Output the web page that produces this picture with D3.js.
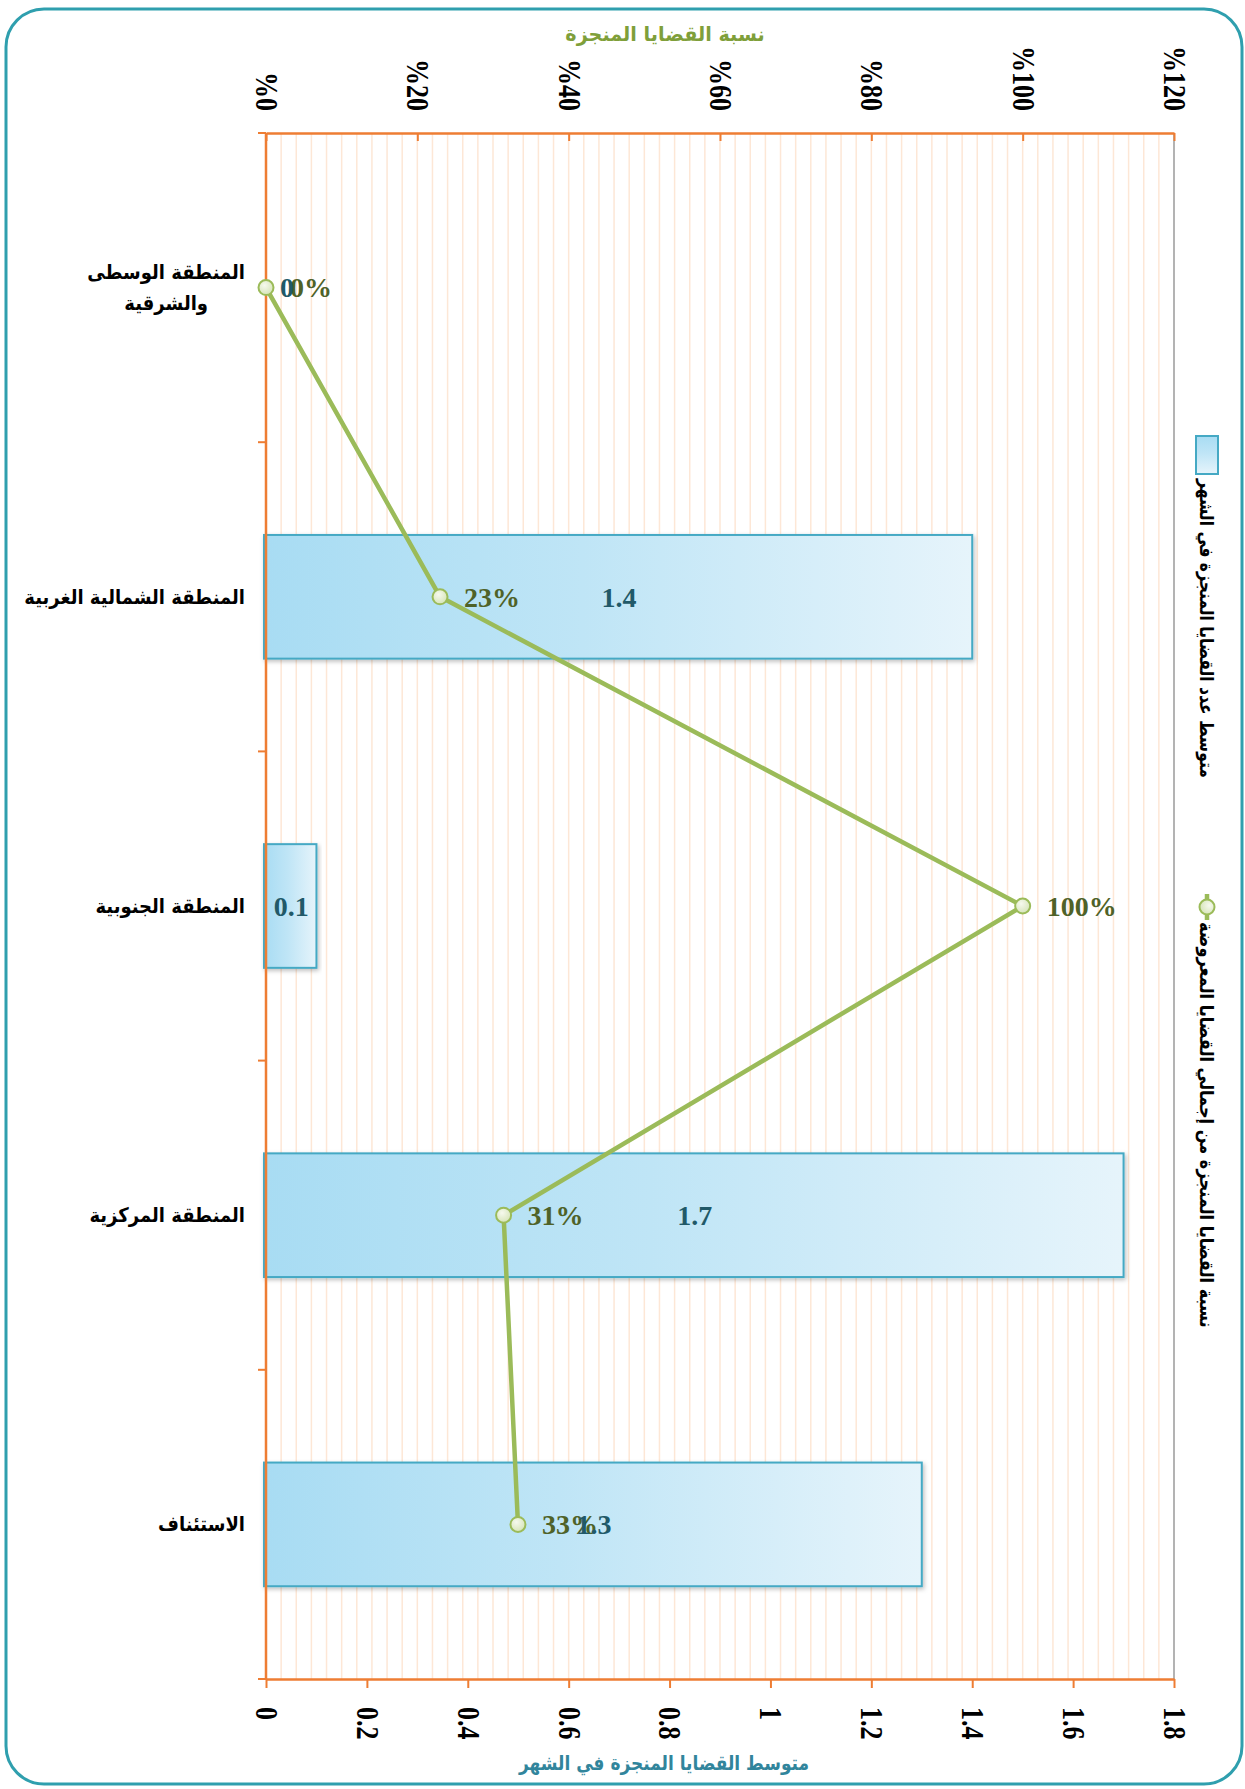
<!DOCTYPE html>
<html>
<head>
<meta charset="utf-8">
<script src="https://cdn.jsdelivr.net/npm/d3@7"></script>
<style>
  body{ margin:0; padding:0; background:#fff; }
  svg{ display:block; }
  .ar{ font-family:"DejaVu Sans", sans-serif; font-weight:bold; }
  .num{ font-family:"Liberation Serif", "Times New Roman", serif; font-weight:bold; }
</style>
</head>
<body>
<svg id="chart" width="1245" height="1789"></svg>
<script>
  // categories (top -> bottom)
  let categories = [
    'المنطقة الوسطى\nوالشرقية',
    'المنطقة الشمالية الغربية',
    'المنطقة الجنوبية',
    'المنطقة المركزية',
    'الاستئناف'
  ];
  // average completed cases per month (bars)
  let avgCases = [0, 1.4, 0.1, 1.7, 1.3];
  // share of completed cases (line)
  let pctDone = [0, 0.23, 1.0, 0.314, 0.333];

  let valTicks = [0, 0.2, 0.4, 0.6, 0.8, 1, 1.2, 1.4, 1.6, 1.8];
  let pctTicks = [0, 0.2, 0.4, 0.6, 0.8, 1, 1.2];
  let pctTickLabels = ['%0', '%20', '%40', '%60', '%80', '%100', '%120'];

  let barLegend  = 'متوسط عدد القضايا المنجزة في الشهر';
  let lineLegend = 'نسبة القضايا المنجزة من إجمالي القضايا المعروضة';
  let topTitle    = 'نسبة القضايا المنجزة';
  let bottomTitle = 'متوسط القضايا المنجزة في الشهر';

  // plot box
  let L = 266, R = 1174, T = 133, B = 1679;
  let orange = '#ee7d33', green = '#9bbb59';

  // DejaVu arabic is wider than the original font, so squeeze it a bit
  function squeeze(sel, k) {
    sel.each(function () {
      let len = this.getComputedTextLength();
      d3.select(this).attr('textLength', len * k).attr('lengthAdjust', 'spacingAndGlyphs');
    });
  }

  let svg = d3.select('#chart');
  let defs = svg.append('defs');

  let g1 = defs.append('linearGradient').attr('id', 'barFill')
    .attr('x1', 0).attr('x2', 1).attr('y1', 0).attr('y2', 0);
  g1.append('stop').attr('offset', '0%').attr('stop-color', '#a8dcf3');
  g1.append('stop').attr('offset', '45%').attr('stop-color', '#bfe5f6');
  g1.append('stop').attr('offset', '100%').attr('stop-color', '#e6f4fb');

  let g2 = defs.append('radialGradient').attr('id', 'dotFill')
    .attr('cx', '40%').attr('cy', '35%').attr('r', '70%');
  g2.append('stop').attr('offset', '0%').attr('stop-color', '#f6f9ee');
  g2.append('stop').attr('offset', '100%').attr('stop-color', '#d4e3b5');

  defs.append('filter').attr('id', 'shadow')
    .attr('x', '-5%').attr('y', '-10%').attr('width', '115%').attr('height', '130%')
    .append('feDropShadow')
      .attr('dx', 1.5).attr('dy', 2).attr('stdDeviation', 2)
      .attr('flood-color', '#000').attr('flood-opacity', 0.25);

  // outer frame
  svg.append('rect')
    .attr('x', 6).attr('y', 9).attr('width', 1236).attr('height', 1775)
    .attr('rx', 38)
    .attr('fill', 'none').attr('stroke', '#2f9fae').attr('stroke-width', 3);

  let xVal = d3.scaleLinear().domain([0, 1.8]).range([L, R]);
  let xPct = d3.scaleLinear().domain([0, 1.2]).range([L, R]);
  let y = d3.scaleBand().domain(categories).range([T, B])
    .paddingInner(0.6).paddingOuter(0.3);
  let yc = c => y(c) + y.bandwidth() / 2;

  // gridlines every 2%
  svg.append('g')
    .selectAll('line')
    .data(xPct.ticks(60).filter(d => d > 0 && d < 1.2))
    .enter()
    .append('line')
      .attr('x1', d => xPct(d)).attr('x2', d => xPct(d))
      .attr('y1', T).attr('y2', B)
      .attr('stroke', '#fde7d6').attr('stroke-width', 1.5);

  // right border
  svg.append('line')
    .attr('x1', R).attr('x2', R).attr('y1', T).attr('y2', B)
    .attr('stroke', '#9a9a9a').attr('stroke-width', 1.5);

  // bars
  let rows = categories.map((c, i) => ({ c: c, v: avgCases[i], p: pctDone[i] }));

  svg.append('g')
    .selectAll('rect')
    .data(rows.filter(d => d.v > 0))
    .enter()
    .append('rect')
      .attr('x', xVal(0) - 2)
      .attr('y', d => y(d.c))
      .attr('width', d => xVal(d.v) - xVal(0) + 2)
      .attr('height', y.bandwidth())
      .attr('fill', 'url(#barFill)')
      .attr('stroke', '#45a9c4').attr('stroke-width', 2)
      .attr('filter', 'url(#shadow)');

  // bottom axis
  let axB = svg.append('g')
    .attr('transform', `translate(0,${B})`)
    .call(d3.axisBottom(xVal).tickValues(valTicks).tickSizeInner(9).tickSizeOuter(0)
      .tickFormat(d => String(d)));
  axB.select('.domain').attr('stroke', orange).attr('stroke-width', 2.5);
  axB.selectAll('.tick line').attr('stroke', orange).attr('stroke-width', 2);
  axB.selectAll('.tick text')
    .attr('class', 'num')
    .attr('x', 0).attr('y', 0).attr('dy', '0.34em')
    .attr('transform', 'translate(0,28) rotate(90) scale(1,1.2)')
    .attr('text-anchor', 'start')
    .attr('font-size', 26).attr('fill', '#000');

  // top axis
  let axT = svg.append('g')
    .attr('transform', `translate(0,${T})`)
    .call(d3.axisTop(xPct).tickValues(pctTicks).tickSizeInner(-8).tickSizeOuter(0)
      .tickFormat((d, i) => pctTickLabels[i]));
  axT.select('.domain').attr('stroke', orange).attr('stroke-width', 2.5);
  axT.selectAll('.tick line').attr('stroke', orange).attr('stroke-width', 2);
  axT.selectAll('.tick text')
    .attr('class', 'num')
    .attr('x', 0).attr('y', 0).attr('dy', '0.34em')
    .attr('transform', 'translate(0,-22) rotate(90) scale(1,1.2)')
    .attr('text-anchor', 'end')
    .attr('font-size', 26).attr('fill', '#000');

  // left category axis
  let bounds = categories.map(c => y(c) - (y.step() - y.bandwidth()) / 2);
  bounds.push(B);
  svg.append('line')
    .attr('x1', L).attr('x2', L).attr('y1', T).attr('y2', B)
    .attr('stroke', orange).attr('stroke-width', 2.5);
  svg.append('g')
    .selectAll('line')
    .data(bounds)
    .enter()
    .append('line')
      .attr('x1', L - 8).attr('x2', L)
      .attr('y1', d => d).attr('y2', d => d)
      .attr('stroke', orange).attr('stroke-width', 2);

  // category labels
  let cat = svg.append('g')
    .selectAll('text')
    .data(categories)
    .enter()
    .append('text')
      .attr('class', 'ar')
      .attr('font-size', 20)
      .attr('fill', '#000');
  cat.each(function (d) {
    let lines = d.split('\n');
    let t = d3.select(this);
    let lh = 31;
    let y0 = yc(d) - (lines.length - 1) * lh / 2;
    lines.forEach((s, i) => {
      t.append('tspan').attr('y', y0 + i * lh).attr('dy', '0.35em').text(s);
    });
    squeeze(t.selectAll('tspan'), 0.9);
    if (lines.length > 1) {
      let w = d3.max(t.selectAll('tspan').nodes(), n => +n.getAttribute('textLength'));
      t.selectAll('tspan').attr('x', L - 21 - w / 2).attr('text-anchor', 'middle');
    } else {
      t.selectAll('tspan').attr('x', L - 21).attr('text-anchor', 'end');
    }
  });

  // line
  let line = d3.line().x(d => xPct(d.p)).y(d => yc(d.c));
  svg.append('path')
    .datum(rows)
    .attr('d', line)
    .attr('fill', 'none')
    .attr('stroke', green).attr('stroke-width', 4.5)
    .attr('stroke-linejoin', 'round');

  svg.append('g')
    .selectAll('circle')
    .data(rows)
    .enter()
    .append('circle')
      .attr('cx', d => xPct(d.p)).attr('cy', d => yc(d.c))
      .attr('r', 7.5)
      .attr('fill', 'url(#dotFill)')
      .attr('stroke', green).attr('stroke-width', 2);

  // percent labels
  let fmtPct = d3.format('.0%');
  svg.append('g')
    .selectAll('text')
    .data(rows)
    .enter()
    .append('text')
      .attr('class', 'num')
      .attr('x', d => xPct(d.p) + 24)
      .attr('y', d => yc(d.c))
      .attr('dy', '0.35em')
      .attr('font-size', 28)
      .attr('fill', '#4f6228')
      .text(d => fmtPct(d.p));

  // bar value labels
  svg.append('g')
    .selectAll('text')
    .data(rows)
    .enter()
    .append('text')
      .attr('class', 'num')
      .attr('x', d => Math.max(xVal(d.v / 2), xVal(0) + 21))
      .attr('y', d => yc(d.c))
      .attr('dy', '0.35em')
      .attr('text-anchor', 'middle')
      .attr('font-size', 28)
      .attr('fill', '#215968')
      .text(d => String(d.v));

  // axis titles
  svg.append('text')
    .attr('class', 'ar')
    .attr('x', 665).attr('y', 34).attr('dy', '0.35em')
    .attr('text-anchor', 'middle')
    .attr('font-size', 20).attr('fill', '#7f9f3a')
    .text(topTitle)
    .call(squeeze, 0.96);
  svg.append('text')
    .attr('class', 'ar')
    .attr('x', 664).attr('y', 1763).attr('dy', '0.35em')
    .attr('text-anchor', 'middle')
    .attr('font-size', 20).attr('fill', '#31859c')
    .text(bottomTitle)
    .call(squeeze, 0.85);

  // legend (rotated)
  let lg = svg.append('g').attr('transform', 'translate(1207,436) rotate(90)');
  lg.append('rect')
    .attr('x', 0).attr('y', -11).attr('width', 38).attr('height', 22)
    .attr('fill', 'url(#barFill)')
    .attr('stroke', '#45a9c4').attr('stroke-width', 2);
  lg.append('text')
    .attr('class', 'ar')
    .attr('x', 43).attr('y', 0).attr('dy', '0.35em')
    .attr('font-size', 19).attr('fill', '#000')
    .text(barLegend)
    .call(squeeze, 0.82);
  lg.append('line')
    .attr('x1', 458).attr('x2', 484).attr('y1', 0).attr('y2', 0)
    .attr('stroke', green).attr('stroke-width', 4.5);
  lg.append('circle')
    .attr('cx', 471).attr('cy', 0).attr('r', 7.5)
    .attr('fill', 'url(#dotFill)')
    .attr('stroke', green).attr('stroke-width', 2);
  lg.append('text')
    .attr('class', 'ar')
    .attr('x', 486).attr('y', 0).attr('dy', '0.35em')
    .attr('font-size', 19).attr('fill', '#000')
    .text(lineLegend)
    .call(squeeze, 0.85);
</script>
</body>
</html>
